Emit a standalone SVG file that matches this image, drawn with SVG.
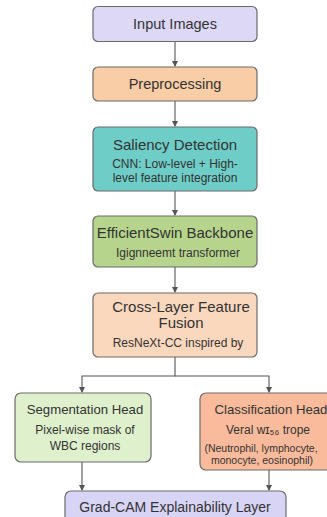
<svg xmlns="http://www.w3.org/2000/svg" width="327" height="517" viewBox="0 0 327 517">
<defs>
<marker id="ah" markerWidth="6" markerHeight="6" refX="5" refY="3" orient="auto" markerUnits="userSpaceOnUse">
<path d="M0,0 L6,3 L0,6 Z" fill="#555"/>
</marker>
<style>
.box{stroke:#6b6b6b;stroke-width:1.2}
.t{font-family:"Liberation Sans",Arial,sans-serif;fill:#333;text-anchor:middle}
.h{font-size:14.5px}
.s{font-size:12px}
.xs{font-size:10.5px}
.c{fill:none;stroke:#555;stroke-width:1.1}
</style>
</defs>
<rect width="327" height="517" fill="#ffffff"/>
<g id="connectors">
<line class="c" x1="175" y1="41" x2="175" y2="66" marker-end="url(#ah)"/>
<line class="c" x1="175" y1="101" x2="175" y2="126" marker-end="url(#ah)"/>
<line class="c" x1="175" y1="191" x2="175" y2="215" marker-end="url(#ah)"/>
<line class="c" x1="175" y1="267" x2="175" y2="292" marker-end="url(#ah)"/>
<polyline class="c" points="175,357 175,376 82,376 82,392" marker-end="url(#ah)"/>
<polyline class="c" points="175,376 269,376 269,392" marker-end="url(#ah)"/>
<line class="c" x1="82" y1="462" x2="82" y2="490" marker-end="url(#ah)"/>
<line class="c" x1="269" y1="470" x2="269" y2="490" marker-end="url(#ah)"/>
</g>
<g id="input-images">
<rect class="box" x="93" y="6.5" width="164" height="35" rx="5" fill="#dcd8f6"/>
<text class="t h" x="175" y="29">Input Images</text>
</g>
<g id="preprocessing">
<rect class="box" x="93" y="67" width="164" height="34" rx="5" fill="#f9cda5"/>
<text class="t h" x="175" y="89">Preprocessing</text>
</g>
<g id="saliency-detection">
<rect class="box" x="93" y="127" width="164" height="64" rx="5" fill="#6ecdc7"/>
<text class="t" x="175" y="150" font-size="15">Saliency Detection</text>
<text class="t s" x="175" y="168">CNN: Low-level + High-</text>
<text class="t s" x="175" y="182">level feature integration</text>
</g>
<g id="efficientswin-backbone">
<rect class="box" x="93" y="216" width="164" height="51" rx="5" fill="#b6d48c"/>
<text class="t" x="175" y="238" font-size="15">EfficientSwin Backbone</text>
<text class="t s" x="178" y="257">Igignneemt transformer</text>
</g>
<g id="cross-layer-feature-fusion">
<rect class="box" x="93" y="293" width="164" height="64" rx="5" fill="#fad8bd"/>
<text class="t" x="181" y="312" font-size="15">Cross-Layer Feature</text>
<text class="t" x="181" y="328" font-size="15">Fusion</text>
<text class="t s" x="178" y="347">ResNeXt-CC inspired by</text>
</g>
<g id="segmentation-head">
<rect class="box" x="15" y="393" width="136" height="69" rx="6" fill="#def0cc"/>
<text class="t" x="85" y="414" font-size="13.2">Segmentation Head</text>
<text class="t s" x="85" y="434">Pixel-wise mask of</text>
<text class="t s" x="85" y="450">WBC regions</text>
</g>
<g id="classification-head">
<rect class="box" x="200" y="393" width="136" height="77" rx="6" fill="#f9bb9c"/>
<text class="t" x="271" y="414" font-size="13.2">Classification Head</text>
<text class="t s" x="268" y="434">Veral wɪ₅₆ trope</text>
<text class="t xs" x="261" y="452">(Neutrophil, lymphocyte,</text>
<text class="t xs" x="262" y="464">monocyte, eosinophil)</text>
</g>
<g id="grad-cam-explainability-layer">
<rect class="box" x="65" y="491" width="221" height="32" rx="6" fill="#d8d4f5"/>
<text class="t" x="175" y="512" font-size="14">Grad-CAM Explainability Layer</text>
</g>
</svg>
